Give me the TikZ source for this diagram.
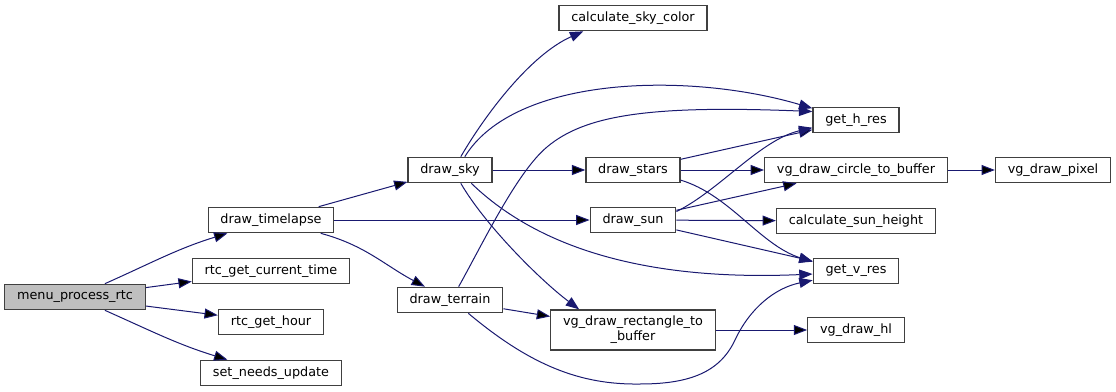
\documentclass[tikz,border=0pt]{standalone}
\usepackage{fontspec}
\setmainfont{DejaVu Sans}
\usepackage{tikz}
\usetikzlibrary{arrows.meta}
\definecolor{edgeblue}{HTML}{191970}
\definecolor{boxline}{HTML}{404040}
\definecolor{rootfill}{HTML}{BFBFBF}

\begin{document}
\begin{tikzpicture}[x=0.75pt, y=0.75pt,
  fn/.style={draw=boxline, line width=1pt, fill=white, inner xsep=9.2pt, inner ysep=0pt,
    minimum height=19pt, align=center, font=\fontsize{9.6}{11.3}\selectfont},
  root/.style={fn, fill=rootfill},
  call/.style={draw=edgeblue, line width=0.75pt, -{Triangle[length=10pt,width=7.5pt]}}]
 \useasboundingbox (0,0) rectangle (1116,-392);

 % callers on the left
 \node[root] (mpr)   at (75,-297)  {menu\_process\_rtc};
 \node[fn]   (tl)    at (271,-220) {draw\_timelapse};
 \node[fn]   (gct)   at (271,-271) {rtc\_get\_current\_time};
 \node[fn]   (gh)    at (271,-322) {rtc\_get\_hour};
 \node[fn]   (snu)   at (271,-373) {set\_needs\_update};
 \node[fn]   (sky)   at (450,-170) {draw\_sky};
 \node[fn]   (dt)    at (450,-300) {draw\_terrain};
 % drawing helpers
 \node[fn]   (csc)   at (633,-18)  {calculate\_sky\_color};
 \node[fn]   (stars) at (633,-170) {draw\_stars};
 \node[fn]   (sun)   at (633,-220) {draw\_sun};
 \node[fn, minimum height=30pt] (rect) at (633,-330) {vg\_draw\_rectangle\_to\\\_buffer};
 \node[fn]   (hres)  at (856,-120) {get\_h\_res};
 \node[fn]   (circ)  at (856,-170) {vg\_draw\_circle\_to\_buffer};
 \node[fn]   (csh)   at (856,-221) {calculate\_sun\_height};
 \node[fn]   (vres)  at (856,-271) {get\_v\_res};
 \node[fn]   (hl)    at (856,-330) {vg\_draw\_hl};
 \node[fn]   (pix)   at (1053,-170) {vg\_draw\_pixel};

 \path[call]
  (mpr) edge[out=24, in=197] (tl)
        edge (gct)
        edge (gh)
        edge[out=-24, in=163] (snu)
  (tl)  edge (sky)
        edge (sun)
        edge[out=-15, in=152] (dt)
  (sky) edge (stars)
  (dt)  edge (rect)
  (stars) edge (hres)
          edge (circ)
  (sun) edge (circ)
        edge (csh)
        edge (vres)
  (circ) edge (pix)
  (rect) edge (hl);

 % the longer curved calls
 \draw[call] (sky.51) .. controls (485,-115) and (530,-55) .. (csc.195);
 \draw[call] (sky.42) .. controls (515,-75) and (690,-72) .. (hres.165);
 \draw[call] (sky.-32) .. controls (530,-240) and (630,-282) .. (vres.184);
 \draw[call] (sky.-51) .. controls (485,-225) and (540,-280) .. (rect.159);
 \draw[call] (dt.57) .. controls (483,-243) and (517,-172) .. (547,-147)
   .. controls (585,-115) and (650,-105) .. (hres.169);
 \draw[call] (dt.-36) .. controls (530,-365) and (580,-385) .. (640,-384)
   .. controls (690,-384) and (720,-372) .. (735,-340)
   .. controls (750,-308) and (775,-288) .. (vres.192);
 \draw[call] (stars.-12) .. controls (730,-195) and (760,-245) .. (vres.168);
 \draw[call] (sun.11) .. controls (720,-190) and (760,-140) .. (hres.190);
\end{tikzpicture}
\end{document}
